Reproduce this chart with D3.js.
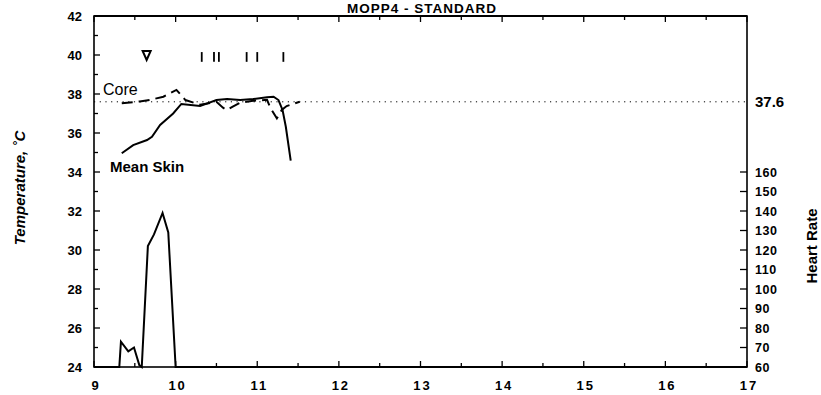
<!DOCTYPE html>
<html><head><meta charset="utf-8">
<script src="https://cdn.jsdelivr.net/npm/d3@7"></script>
<style>body{margin:0;background:#fff}svg{display:block}text{font-family:"Liberation Sans",Arial,sans-serif;fill:#000}</style>
</head><body><svg id="c" width="821" height="395"></svg>
<script>
// ---- data ----
const titleText = "MOPP4 - STANDARD";
const xTicks = [9,10,11,12,13,14,15,16,17];
const tempTicks = [24,26,28,30,32,34,36,38,40,42];
const hrTicks = [60,70,80,90,100,110,120,130,140,150,160];
const refLine = 37.6;
// Mean skin temperature (hours, degC)
const skinHours = [9.34,9.48,9.65,9.71,9.81,9.97,10.07,10.30,10.50,10.63,10.79,10.95,11.12,11.20,11.26,11.31,11.35,11.41];
const skinTemp  = [34.96,35.38,35.64,35.81,36.41,37.0,37.49,37.38,37.69,37.74,37.69,37.74,37.83,37.86,37.69,37.18,36.32,34.58];
// Core temperature (hours, degC)
const coreHours = [9.34,9.56,9.69,9.85,10.01,10.12,10.30,10.50,10.58,10.63,10.70,10.79,10.95,11.12,11.16,11.24,11.30,11.36,11.52];
const coreTemp  = [37.52,37.62,37.70,37.86,38.21,37.69,37.45,37.60,37.30,37.18,37.35,37.55,37.65,37.70,37.30,36.75,37.18,37.38,37.60];
// Heart rate (hours, bpm)
const hrHours = [9.0,9.31,9.33,9.42,9.49,9.555,9.585,9.66,9.735,9.84,9.91,10.0,17.0];
const hrValues = [60,60,73,68,70,61,60,122,128,139,129,60,60];
// event markers
const triangleHour = 9.645, triangleTemp = 40;
const eventHours = [10.32,10.47,10.53,10.87,11.0,11.32];

// ---- layout ----
const svg = d3.select("#c");
const L=94, R=747, T=16, B=367;
const x = d3.scaleLinear().domain([9,17]).range([L,R]);
const y = d3.scaleLinear().domain([24,42]).range([B,T]);
const yHR = d3.scaleLinear().domain([60,240]).range([B,T]);

// title
svg.append("text").attr("x",422).attr("y",13).attr("text-anchor","middle")
  .attr("font-size",13.5).attr("font-weight","bold").attr("letter-spacing",1).text(titleText);

// frame
svg.append("rect").attr("x",L).attr("y",T).attr("width",R-L).attr("height",B-T)
  .attr("fill","none").attr("stroke","#000").attr("stroke-width",1.6);
svg.append("line").attr("x1",L).attr("x2",R).attr("y1",T).attr("y2",T).attr("stroke","#000").attr("stroke-width",2.2);

// left axis
const ga = svg.append("g").attr("stroke","#000").attr("stroke-width",1.3);
d3.range(24,43,1).forEach(v=>{
  ga.append("line").attr("x1",L).attr("x2",L+(v%2===0?6:4)).attr("y1",y(v)).attr("y2",y(v));
});
svg.append("g").selectAll("text").data(tempTicks).join("text")
  .attr("x",82).attr("y",d=>y(d)+4.5).attr("text-anchor","end")
  .attr("font-size",13).attr("font-weight","bold").text(d=>d);

// bottom/top ticks
d3.range(9,17.01,0.5).forEach(v=>{
  const len = Number.isInteger(v)?6:4;
  ga.append("line").attr("x1",x(v)).attr("x2",x(v)).attr("y1",B).attr("y2",B-len);
  ga.append("line").attr("x1",x(v)).attr("x2",x(v)).attr("y1",T).attr("y2",T+len);
});
svg.append("g").selectAll("text").data(xTicks).join("text")
  .attr("x",d=>x(d)+2).attr("y",390).attr("text-anchor","middle")
  .attr("font-size",13).attr("font-weight","bold").attr("letter-spacing",2).text(d=>d);

// right axis
hrTicks.forEach(v=>{
  ga.append("line").attr("x1",R).attr("x2",R-7).attr("y1",yHR(v)).attr("y2",yHR(v));
});
svg.append("g").selectAll("text").data(hrTicks).join("text")
  .attr("x",755).attr("y",d=>yHR(d)+4.5).attr("text-anchor","start")
  .attr("font-size",12.5).attr("font-weight","bold").attr("letter-spacing",0.5).text(d=>d);

// reference dotted line
svg.append("line").attr("x1",L).attr("x2",R).attr("y1",y(refLine)).attr("y2",y(refLine))
  .attr("stroke","#000").attr("stroke-width",1).attr("stroke-dasharray","1.2,4.5");
svg.append("text").attr("x",755).attr("y",y(refLine)+5.5).attr("font-size",15)
  .attr("font-weight","bold").text(refLine.toFixed(1));

// axis titles
svg.append("text").attr("transform","translate(25,188) rotate(-90)").attr("text-anchor","middle")
  .attr("font-size",15).attr("font-style","italic").attr("font-weight","bold").text("Temperature, \u02DAC");
svg.append("text").attr("transform","translate(817,246) rotate(-90)").attr("text-anchor","middle")
  .attr("font-size",15).attr("font-weight","bold").text("Heart Rate");

// lines
const line = d3.line().x(d=>x(d[0])).y(d=>d[1]);
svg.append("path").attr("d",line(skinHours.map((h,i)=>[h,y(skinTemp[i])])))
  .attr("fill","none").attr("stroke","#000").attr("stroke-width",2);
svg.append("path").attr("d",line(coreHours.map((h,i)=>[h,y(coreTemp[i])])))
  .attr("fill","none").attr("stroke","#000").attr("stroke-width",2).attr("stroke-dasharray","11,6");
svg.append("path").attr("d",line(hrHours.map((h,i)=>[h,yHR(hrValues[i])])))
  .attr("fill","none").attr("stroke","#000").attr("stroke-width",2).attr("stroke-linejoin","miter");

// markers
const tx=x(triangleHour), ty=y(triangleTemp);
svg.append("path").attr("d",`M${tx-4},${ty-4}L${tx+4},${ty-4}L${tx},${ty+5}Z`)
  .attr("fill","none").attr("stroke","#000").attr("stroke-width",2);
svg.append("g").selectAll("line").data(eventHours).join("line")
  .attr("x1",d=>x(d)).attr("x2",d=>x(d)).attr("y1",y(40.15)).attr("y2",y(39.65))
  .attr("stroke","#000").attr("stroke-width",1.8);

// series labels
svg.append("text").attr("x",103).attr("y",95).attr("font-size",16).text("Core");
svg.append("text").attr("x",110).attr("y",172).attr("font-size",15).attr("font-weight","bold").text("Mean Skin");
</script></body></html>
